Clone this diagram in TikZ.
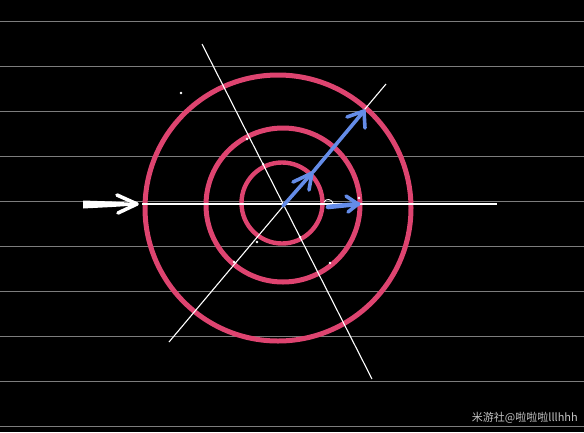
\documentclass[tikz,border=0pt]{standalone}
\usepackage{fontspec}
\newfontfamily\cjkfont{Noto Sans CJK SC}
\definecolor{ringred}{RGB}{222,68,112}
\definecolor{arrowblue}{RGB}{100,140,232}
\definecolor{rulegray}{RGB}{125,125,125}
\definecolor{wmgray}{RGB}{195,195,195}
\begin{document}
\begin{tikzpicture}[x=1pt,y=-1pt,
  rule/.style={rulegray, line width=1.3pt},
  ring/.style={ringred, line width=5pt},
  guide/.style={white, line width=1.1pt},
  bluearrow/.style={arrowblue, line width=3.6pt, line cap=round, line join=round},
  whitearrow/.style={white, line width=3.6pt, line cap=round, line join=round},
  speck/.style={white, fill=white}]
\fill[black] (0,0) rectangle (584,432);
\useasboundingbox (0,0) rectangle (584,432);
% ruled lines
\foreach \i in {0,...,9} {
  \pgfmathsetmacro{\yy}{21.7+45*\i}
  \draw[rule] (0,\yy) -- (584,\yy);
}
% rings
\draw[ring] (278,208) circle[radius=133pt];
\draw[ring] (283,205) circle[radius=77pt];
\draw[ringred, line width=4.4pt] (282,203) circle[radius=40.5pt];
% guide lines
\coordinate (L1a) at (202,44);
\coordinate (L1b) at (372,379);
\coordinate (L2a) at (169,342);
\coordinate (L2b) at (386,84);
\coordinate (H1) at (142,204);
\coordinate (H2) at (497,204);
\draw[guide] (L1a) -- (L1b);
\draw[guide] (L2a) -- (L2b);
\draw[white, line width=1.6pt] (H1) -- (H2);
% specks
\foreach \p in {(247,139),(263,164),(333,148),(359,198),(257,242),(300,237),(234,262),(330,263),(181,93)}
  \fill[white] \p circle[radius=1.3pt];
% white incoming arrow
\coordinate (W0) at (83,204.5);
\coordinate (W1) at (137,204);
\fill[white] (83,200.5) -- (112,201.5) -- (136,203) -- (136,205.5) -- (112,207) -- (83,208.5) -- cycle;
\draw[whitearrow] (117,195) -- (W1) -- (118,213);
% blue arrows
\coordinate (O) at (283,206);
\coordinate (A1) at (312,173);
\coordinate (A2) at (364,111);
\coordinate (B0) at (328,207);
\coordinate (B1) at (358,204);
\draw[bluearrow] (O) -- (A1);
\draw[bluearrow] (293,182) -- (A1) -- (309,190);
\draw[bluearrow] (313,172) -- (A2);
\draw[bluearrow] (347,117) -- (A2) -- (365,128);
\draw[arrowblue, line width=4.6pt, line cap=round] (B0) -- (B1);
\draw[bluearrow] (346,196) -- (B1) -- (348,212);
\draw[white, line width=0.9pt] (324,202) .. controls (326,198.5) and (331,198.5) .. (333,203);
% watermark
\node[text=wmgray, font=\cjkfont\fontsize{11}{13}\selectfont, anchor=east, inner sep=0pt] (wm) at (578,418) {米游社@啦啦啦lllhhh};
\end{tikzpicture}
\end{document}
